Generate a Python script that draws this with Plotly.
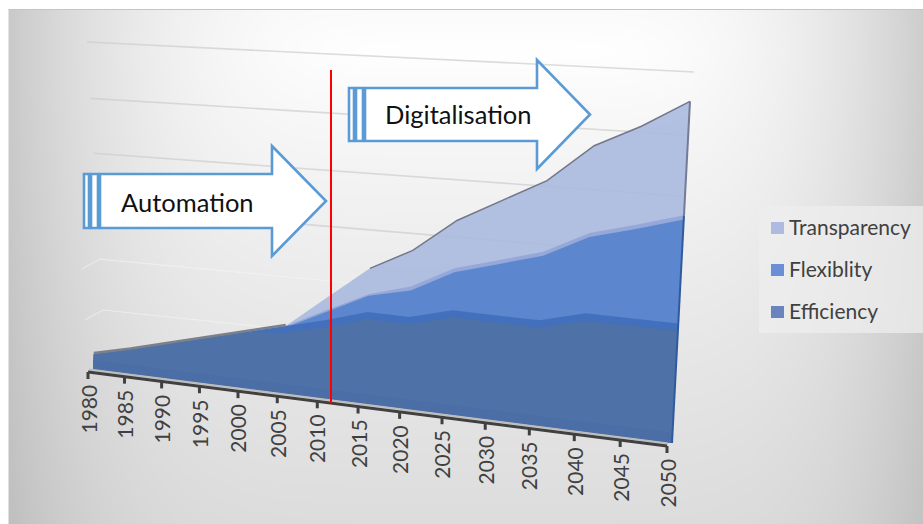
import numpy as np
import plotly.graph_objects as go

# ---- data -------------------------------------------------------------
years = [1980, 1985, 1990, 1995, 2000, 2005, 2010, 2015, 2020, 2025, 2030, 2035, 2040, 2045, 2050]
efficiency = [5.0, 8.0, 11.4, 14.8, 18.1, 21.5, 24.8, 28.7, 28.5, 32.0, 31.8, 31.7, 35.2, 35.0, 35.0]
flexibility = [5.0, 8.0, 11.4, 14.8, 18.1, 21.5, 28.0, 34.3, 38.0, 44.9, 48.6, 52.4, 59.2, 62.7, 66.6]
transparency = [5.0, 8.0, 11.4, 14.8, 18.1, 21.5, 32.0, 42.4, 49.2, 59.6, 66.8, 73.8, 85.2, 91.8, 99.9]
series_names = ["Transparency", "Flexiblity", "Efficiency"]
grid_levels = [0, 1, 2, 3, 4, 5]

FONT = "Lato"
W, H = 923, 524


def homography(p00, p10, p11, p01):
    """Unit square -> picture plane, for the chart's perspective view."""
    A, b = [], []
    for (u, v), (x, y) in zip([(0, 0), (1, 0), (1, 1), (0, 1)], [p00, p10, p11, p01]):
        A.append([u, v, 1, 0, 0, 0, -u * x, -v * x])
        b.append(x)
        A.append([0, 0, 0, u, v, 1, -u * y, -v * y])
        b.append(y)
    h = np.linalg.solve(np.array(A, float), np.array(b, float))

    def f(u, v):
        u, v = np.asarray(u, float), np.asarray(v, float)
        w = h[6] * u + h[7] * v + 1
        return (h[0] * u + h[1] * v + h[2]) / w, (h[3] * u + h[4] * v + h[5]) / w

    return f


front = homography((93, 369), (672, 443), (690, 101), (108, 70))
back = homography((103, 310), (670, 370), (694, 72), (87, 42))
T = (np.array(years) - years[0]) / (years[-1] - years[0])


def proj(t, values):
    return front(t, np.asarray(values, float) / 100)


def area(values, color, name, lower=None):
    x, y = proj(T, values)
    if lower is None:
        bx, by = proj(T, np.zeros_like(T))
    else:
        bx, by = proj(T, lower)
    return go.Scatter(
        x=np.r_[x, bx[::-1]], y=np.r_[y, by[::-1]], mode="lines", fill="toself",
        fillcolor=color, line=dict(width=0), name=name, hoverinfo="skip", showlegend=False,
    )


def line(x, y, color, width):
    return go.Scatter(x=x, y=y, mode="lines", line=dict(color=color, width=width),
                      hoverinfo="skip", showlegend=False)


fig = go.Figure()

# ---- background ---------------------------------------------------------
bx = np.linspace(0, W, 80)
by = np.linspace(0, H, 50)
X, Y = np.meshgrid(bx, by)
dx = np.where(X < 490, (490 - X) / 470, (X - 490) / 433)
dy = np.abs(Y - 50) / 700
dark_x = 50 * dx ** 3
dark_y = 34 * (dy / 0.66) ** 0.8
Z = 255 - np.sqrt(dark_x ** 2 + dark_y ** 2)
fig.add_trace(go.Heatmap(x=bx, y=by, z=Z, zmin=0, zmax=255, zsmooth="best",
                         colorscale=[[0, "#000000"], [1, "#ffffff"]], showscale=False, hoverinfo="skip"))

# ---- gridlines on the back wall -------------------------------------------
for g in grid_levels:
    gx, gy = back(np.array([0.0, 1.0]), np.array([g / 5, g / 5]))
    if g < 2:
        gx = np.r_[gx[0] - 18, gx]
        gy = np.r_[gy[0] + 10, gy]
        fig.add_trace(line(gx, gy, "rgba(246,246,246,0.55)", 1.2))
    else:
        fig.add_trace(line(gx, gy, "rgba(205,205,205,0.7)", 1.6))

# ---- areas -------------------------------------------------------------
A = 0.9
fig.add_trace(area(transparency, f"rgba(170,185,222,{A})", series_names[0]))
top = np.array(flexibility, float)
band_f = np.where(T > 0.55, 1.2, np.where(T > 0.3, 0.5, 0))
fig.add_trace(area(top, "rgba(146,166,216,0.92)", series_names[1] + " top"))
fig.add_trace(area(top - band_f, "rgba(90,132,204,0.96)", series_names[1]))
eff = np.array(efficiency, float)
band_e = np.where(T > 0.3, 2.2, 0.0)
fig.add_trace(area(eff, "rgba(66,112,188,1)", series_names[2] + " top"))
fig.add_trace(area(eff - band_e, "rgba(78,113,168,1)", series_names[2]))
fig.add_trace(area(np.minimum(eff, 3.0), "rgba(75,110,167,1)", series_names[2] + " foot"))

# edges
tx, ty = proj(T, transparency)
fig.add_trace(line(tx[7:], ty[7:], "#737889", 1.5))
fig.add_trace(line(tx[:6], ty[:6] - 1, "#7c808a", 2.5))
ex0, ey0 = proj(np.array([1.0, 1.0]), np.array([0, flexibility[-1]]))
fig.add_trace(line(ex0, ey0, "#2f5b9e", 2))
ex1, ey1 = proj(np.array([1.0, 1.0]), np.array([flexibility[-1], transparency[-1]]))
fig.add_trace(line(ex1, ey1, "#737b97", 2))

# ---- category axis --------------------------------------------------------
ax, ay = proj(T, np.zeros_like(T))
ax, ay = ax - 5, ay + 3
fig.add_trace(line(ax + 1, ay - 2.5, "#bdbdbd", 2))
fig.add_trace(line(ax, ay, "#404040", 3))
tick_x, tick_y = [], []
for a, b in zip(ax, ay):
    tick_x += [a, a, None]
    tick_y += [b, b + 7, None]
fig.add_trace(line(tick_x, tick_y, "#404040", 3))

annotations = [
    dict(x=float(a), y=float(b) + 11, text=str(yr), showarrow=False, textangle=-90,
         xanchor="center", yanchor="top", font=dict(family=FONT, size=21, color="#404040"))
    for a, b, yr in zip(ax, ay, years)
]


# ---- callout arrows -----------------------------------------------------------
def striped_arrow(x0, top_, bottom, head_x, head_top, head_bottom, tip_x):
    mid = (top_ + bottom) / 2
    st = dict(type="path", line=dict(color="#5b9bd5", width=2.6), fillcolor="#ffffff", layer="above")
    return [
        dict(st, path=f"M{x0-16},{top_} H{x0-11} V{bottom} H{x0-16} Z"),
        dict(st, path=f"M{x0-9},{top_} H{x0-2} V{bottom} H{x0-9} Z"),
        dict(st, path=f"M{x0},{top_} H{head_x} V{head_top} L{tip_x},{mid} L{head_x},{head_bottom} V{bottom} H{x0} Z"),
    ]


shapes = [
    dict(type="rect", x0=0, x1=8.5, y0=0, y1=H, fillcolor="#ffffff", line=dict(width=0), layer="above"),
    dict(type="rect", x0=0, x1=W, y0=0, y1=9, fillcolor="#ffffff", line=dict(width=0), layer="above"),
    dict(type="line", x0=8.5, x1=W, y0=9.5, y1=9.5, line=dict(color="#c4c4c4", width=1), layer="above"),
    dict(type="line", x0=331, x1=331, y0=70, y1=403, line=dict(color="#ff0000", width=2), layer="above"),
    dict(type="rect", x0=759, x1=W, y0=206, y1=333, fillcolor="rgba(238,238,238,0.75)", line=dict(width=0), layer="above"),
]
shapes += striped_arrow(100, 174, 228, 272, 146, 256, 326)
shapes += striped_arrow(365, 88, 141, 537, 60, 169, 590)

annotations += [
    dict(x=187.5, y=202, text="Automation", showarrow=False, font=dict(family=FONT, size=25.5, color="#111111")),
    dict(x=458.5, y=114, text="Digitalisation", showarrow=False, font=dict(family=FONT, size=25.5, color="#111111")),
]

# ---- legend --------------------------------------------------------------
legend_colors = ["#aebadf", "#6b8fd6", "#6b84bd"]
legend_y = [228, 270, 312]
for nm, col, ly in zip(series_names, legend_colors, legend_y):
    shapes.append(dict(type="rect", x0=771, x1=784, y0=ly - 6, y1=ly + 6, fillcolor=col, line=dict(width=0), layer="above"))
    annotations.append(dict(x=787, y=ly - 2, text=nm, showarrow=False, xanchor="left",
                            font=dict(family=FONT, size=21, color="#404040")))

fig.update_layout(
    width=W, height=H, margin=dict(l=0, r=0, t=0, b=0, pad=0),
    paper_bgcolor="#ffffff", plot_bgcolor="#ffffff", showlegend=False,
    xaxis=dict(range=[0, W], visible=False, fixedrange=True),
    yaxis=dict(range=[H, 0], visible=False, fixedrange=True),
    shapes=shapes, annotations=annotations,
)
fig.write_html(
    "out.html",
    config={"displayModeBar": False},
    post_script=(
        "document.body.style.margin='0';document.body.style.overflow='hidden';"
        "var s=document.createElement('style');s.textContent='text{font-variant-ligatures:none}';"
        "document.head.appendChild(s);"
    ),
)
